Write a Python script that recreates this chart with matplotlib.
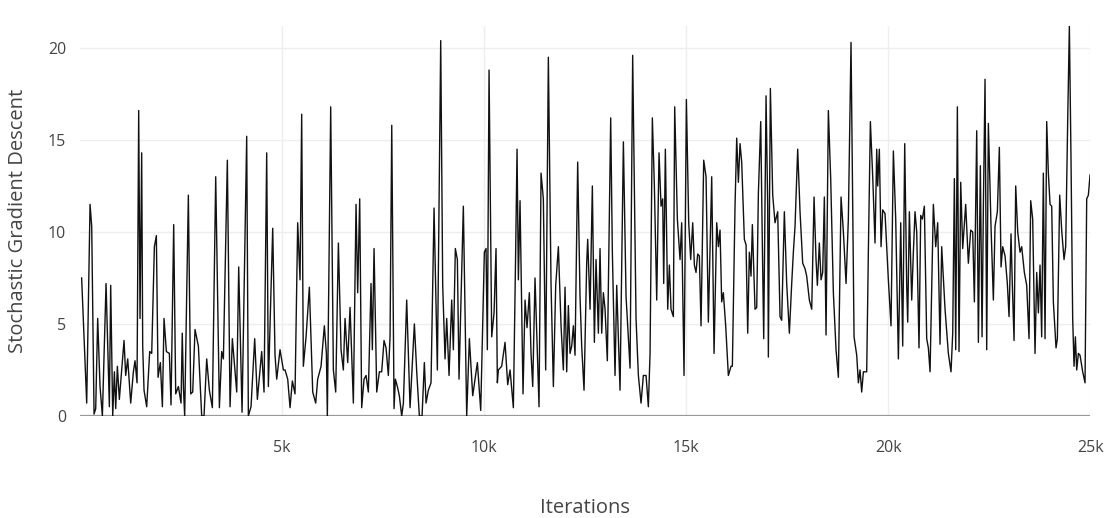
import matplotlib
matplotlib.use("Agg")
import matplotlib.pyplot as plt
from matplotlib.ticker import FuncFormatter

# iterations at each turning point of the curve
iters = [
    40, 165, 248, 289, 347, 388, 437, 495, 553, 644, 726, 759, 809, 850, 883, 924, 973,
    1031, 1089, 1130, 1180, 1254, 1320, 1361, 1411, 1452, 1485, 1526, 1551, 1584, 1650,
    1724, 1774, 1840, 1889, 1931, 1988, 2038, 2079, 2137, 2211, 2252, 2318, 2368, 2434,
    2500, 2530, 2560, 2590,
    2681, 2739, 2789, 2846, 2929, 3011, 3069, 3135, 3201, 3275, 3358, 3449, 3506, 3548,
    3646, 3713, 3770, 3878, 3927, 4010, 4125, 4166, 4232, 4323, 4389, 4496, 4554, 4620,
    4661, 4769, 4826, 4868, 4950, 5033,
    5074, 5140, 5198, 5255, 5321, 5387, 5445, 5486, 5527, 5594, 5676, 5759, 5833, 5882,
    5965, 6047, 6097, 6121, 6204, 6270, 6328, 6394, 6460, 6517, 6559, 6625, 6683, 6765,
    6831, 6872, 6922, 6971, 7029, 7079, 7136, 7202, 7235, 7277, 7343, 7409, 7466, 7524,
    7574, 7631, 7673,
    7715, 7772, 7805, 7854, 7903, 7961, 8003, 8085, 8168, 8275, 8333, 8398, 8465, 8522,
    8564, 8621, 8687, 8762, 8844, 8927, 8976, 9034, 9075, 9133, 9199, 9240, 9289, 9339,
    9380, 9430, 9487, 9570, 9636, 9719, 9834, 9917, 10007, 10049, 10081, 10123, 10189,
    10247, 10296, 10329,
    10354, 10436, 10519, 10585, 10643, 10725, 10783, 10816, 10849, 10890, 10964, 11014,
    11063, 11121, 11162, 11204, 11261, 11360, 11410, 11467, 11525, 11591, 11657, 11715,
    11773, 11839, 11905, 11962, 12004, 12045, 12086, 12128, 12169, 12210, 12251, 12317,
    12375, 12416, 12474, 12540, 12565, 12623, 12680, 12730, 12771, 12829,
    12870, 12911, 12953, 12994, 13051, 13134, 13175, 13241, 13283, 13365, 13448, 13514,
    13613, 13678, 13761, 13819, 13885, 13942, 14009, 14066, 14108, 14165, 14215, 14273,
    14330, 14380, 14421, 14446, 14487, 14545, 14586, 14627, 14685, 14718, 14784, 14850,
    14891, 14949, 15007, 15065, 15114, 15164, 15205, 15246, 15287, 15328, 15370, 15436,
    15494,
    15551, 15634, 15692, 15758, 15799, 15840, 15881, 15922, 15980, 16046, 16112, 16145,
    16211, 16253, 16294, 16335, 16376, 16442, 16484, 16525, 16566, 16607, 16640, 16706,
    16748, 16789, 16847, 16888, 16921, 16979, 17020, 17036, 17086, 17144, 17201, 17267,
    17325, 17366, 17432, 17490, 17556, 17614, 17655, 17696, 17762, 17820, 17886, 17944,
    17985, 18051,
    18109, 18167, 18216, 18249, 18298, 18340, 18381, 18422, 18464, 18521, 18579, 18645,
    18711, 18769, 18835, 18893, 18959, 19016, 19082, 19157, 19223, 19264, 19305, 19346,
    19388, 19470, 19511, 19561, 19619, 19676, 19718, 19742, 19783, 19825, 19866, 19924,
    20006, 20072, 20130, 20188, 20254, 20312, 20361, 20411, 20460, 20485, 20526, 20584,
    20625,
    20666, 20708, 20765, 20807, 20848, 20897, 20955, 20996, 21038, 21120, 21178, 21227,
    21285, 21326, 21409, 21491, 21557, 21599, 21640, 21673, 21714, 21755, 21797, 21846,
    21920, 21986, 22044, 22094, 22135, 22193, 22234, 22283, 22325, 22358, 22399, 22440,
    22481, 22547, 22605, 22646, 22704, 22753,
    22795, 22836, 22894, 22951, 22993, 23042, 23075, 23117, 23158, 23208, 23265, 23306,
    23372, 23430, 23488, 23529, 23578, 23636, 23678, 23719, 23760, 23801, 23842, 23884,
    23925, 23966, 24008, 24049, 24090, 24156, 24189, 24247, 24296, 24354, 24395, 24445,
    24486, 24527, 24568, 24602, 24635, 24668, 24709, 24750, 24816, 24874, 24915, 24956,
    24998,
]

sgd = [
    7.5, 0.7, 11.5, 10.3, 0.1, 0.4, 5.3, 1.6, 0.0, 7.2, 0.5, 7.1, 0.0, 2.4, 0.4, 2.7, 0.9,
    2.5, 4.1, 2.2, 3.1, 0.7, 2.4, 3.0, 1.8, 16.6, 5.3, 14.3, 3.8, 1.4, 0.5,
    3.5, 3.4, 9.2, 9.8, 2.1, 2.9, 0.5, 5.3, 3.5, 3.4, 0.6, 10.4, 1.2, 1.6,
    0.7, 4.5, 1.5, 0.0,
    12.0, 1.2, 1.3, 4.7, 3.8, 0.0, 0.0, 3.1, 1.4, 0.45, 13.0, 0.45, 3.5, 3.1,
    13.9, 0.5, 4.2, 1.3, 8.1, 0.2, 15.2, 0.0, 0.5, 4.2, 0.9, 3.5, 1.3, 14.3,
    1.6, 10.2, 3.3, 2.0, 3.6, 2.5,
    2.5, 2.0, 0.45, 1.9, 1.2, 10.5, 7.4, 16.4, 2.7, 4.3, 7.0, 1.3, 0.7, 2.0,
    2.7, 4.9, 3.4, 0.0, 16.8, 2.5, 1.3, 9.4, 3.6, 2.5, 5.3, 2.9, 5.9, 0.7,
    11.5, 6.7, 11.8, 0.45, 2.0, 2.2, 1.3, 7.2, 3.6, 9.1, 1.3, 2.4, 2.4, 4.1,
    3.7, 2.2, 4.3,
    15.8, 0.4, 2.0, 1.6, 1.1, 0.0, 0.7, 6.3, 0.45, 5.0, 2.4, 0.0, 0.0, 2.9,
    0.7, 1.4, 1.8, 11.3, 2.5, 20.4, 7.1, 3.1, 5.3, 2.2, 6.3, 3.6, 9.1, 8.5,
    2.0, 6.5, 11.4, 0.0, 4.2, 1.1, 2.9, 0.3, 8.9, 9.1, 3.6, 18.8, 4.3,
    5.6, 9.1, 1.8,
    2.5, 2.7, 4.0, 1.7, 2.5, 0.45, 9.1, 14.5, 7.4, 11.7, 1.2, 6.3,
    4.8, 6.7, 3.4, 1.6, 7.5, 0.5, 13.2, 11.8, 2.5, 19.5, 7.2, 1.6,
    7.1, 9.2, 4.9, 2.5, 7.0, 2.4, 6.0, 3.4, 3.8, 4.9, 3.3, 13.8,
    6.5, 3.8, 1.4, 8.3, 9.6, 5.8, 12.5, 4.0, 8.5, 4.5,
    9.1, 4.5, 6.7, 5.8, 3.0, 16.2, 8.9, 2.2, 7.1, 1.4, 14.9, 6.5,
    2.6, 19.6, 5.3, 2.2, 0.7, 2.2, 2.2, 0.5, 3.4, 16.2, 12.5, 6.3,
    14.3, 11.4, 11.8, 7.2, 14.5, 5.8, 8.2, 5.8, 5.4, 16.8, 10.7, 8.5,
    10.5, 2.2, 17.2, 10.5, 8.5, 10.5, 8.2, 7.8, 8.8, 8.7, 4.9, 13.9,
    13.0,
    5.1, 13.0, 3.4, 10.5, 9.2, 10.1, 6.2, 6.7, 4.9, 2.2, 2.7, 2.7,
    11.4, 15.1, 12.7, 14.8, 13.8, 9.6, 9.3, 4.5, 8.9, 7.6, 10.4, 5.8,
    5.9, 12.1, 16.0, 9.2, 4.2, 17.4, 11.4, 3.2, 17.8, 12.0, 10.5, 11.1,
    5.4, 5.2, 11.1, 7.2, 4.5, 7.2, 8.9, 10.3, 14.5, 11.1, 8.3, 8.0,
    7.6, 6.3,
    5.8, 11.9, 8.5, 7.1, 9.4, 7.4, 7.8, 11.9, 4.4, 16.6, 12.9, 6.7,
    3.6, 2.1, 11.9, 10.0, 7.2, 10.7, 20.3, 4.3, 3.3, 1.8, 2.5, 1.3,
    2.4, 2.4, 8.9, 16.0, 13.0, 9.4, 14.5, 12.5, 14.5, 9.2, 11.2, 11.0,
    7.4, 4.9, 14.4, 10.7, 3.1, 10.5, 3.8, 14.8, 7.1, 5.1, 11.1, 6.3,
    8.9,
    11.1, 10.0, 3.7, 10.9, 10.7, 11.4, 4.2, 3.7, 2.4, 11.5, 9.2, 10.5,
    3.9, 9.2, 5.8, 3.4, 2.4, 4.5, 12.9, 3.6, 16.8, 3.5, 12.7, 9.1,
    11.5, 8.3, 10.1, 10.0, 6.2, 15.5, 4.0, 13.6, 4.3, 11.4, 18.3, 3.6,
    15.9, 10.3, 6.3, 10.3, 11.1, 14.6,
    8.1, 9.2, 8.7, 7.2, 5.4, 9.9, 7.1, 4.1, 12.5, 10.0, 8.9, 9.2,
    7.8, 7.1, 4.2, 11.7, 10.7, 3.4, 7.8, 5.6, 8.2, 4.3, 13.2, 4.2,
    16.0, 13.2, 11.5, 11.4, 6.2, 3.7, 4.2, 12.0, 10.1, 8.5, 9.2, 16.1,
    21.2, 13.9, 5.3, 2.7, 4.3, 2.5, 3.4, 3.3, 2.4, 1.8, 11.8, 12.0,
    13.1,
]

x_ticks = [5000, 10000, 15000, 20000, 25000]
y_ticks = [0, 5, 10, 15, 20]

plt.rcParams['font.family'] = ['Open Sans', 'DejaVu Sans']

fig = plt.figure(figsize=(11.10, 5.18), dpi=100)
ax = fig.add_axes([0.0721, 0.197, 0.910, 0.753])

ax.plot(iters, sgd, color='#111111', lw=1.0, zorder=3)
ax.axhline(0, color='#999999', lw=1.6, zorder=2)

ax.set_xlim(0, 25000)
ax.set_ylim(0, 21.2)
ax.set_xticks(x_ticks)
ax.set_yticks(y_ticks)
ax.xaxis.set_major_formatter(FuncFormatter(lambda v, p: f"{int(v / 1000)}k"))
ax.grid(True, color='#eeeeee', lw=1, zorder=0)
ax.set_axisbelow(True)
for s in ax.spines.values():
    s.set_visible(False)

ax.tick_params(axis='both', length=0, labelsize=11.5, labelcolor='#444444')
ax.tick_params(axis='x', pad=17)
ax.tick_params(axis='y', pad=10)

ax.set_xlabel("Iterations", fontsize=14.5, color='#444444')
ax.set_ylabel("Stochastic Gradient Descent", fontsize=14.5, color='#444444')
ax.xaxis.set_label_coords(0.5, -0.236)
ax.xaxis.label.set_va('center')
ax.yaxis.set_label_coords(-0.0614, 0.5)
ax.yaxis.label.set_va('center')

fig.savefig("out.png", dpi=100)
